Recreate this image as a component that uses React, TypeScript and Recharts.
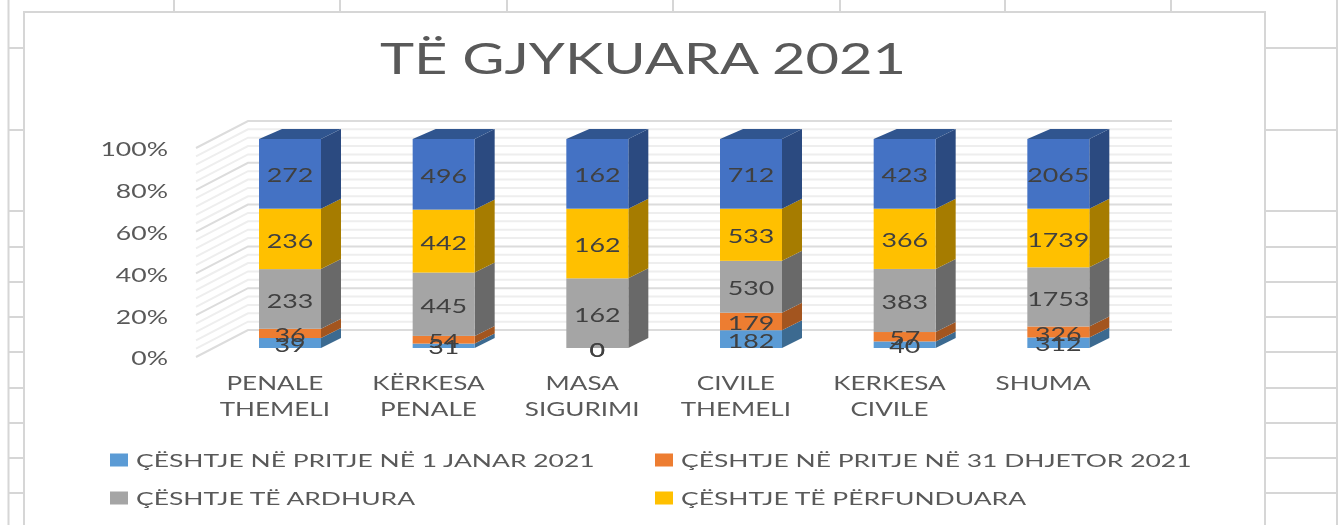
import React from "react";
import { BarChart, Bar, XAxis, YAxis, Legend, LabelList, CartesianGrid } from "recharts";

const categories = ["PENALE THEMELI", "KËRKESA PENALE", "MASA SIGURIMI", "CIVILE THEMELI", "KERKESA CIVILE", "SHUMA"];
const pendingStart = [39, 31, 0, 182, 40, 312];
const pendingEnd = [36, 54, 0, 179, 57, 326];
const incoming = [233, 445, 162, 530, 383, 1753];
const completed = [236, 442, 162, 533, 366, 1739];
const judged = [272, 496, 162, 712, 423, 2065];
const gridTicks = [0, 0.04, 0.08, 0.12, 0.16, 0.2, 0.24, 0.28, 0.32, 0.36, 0.4, 0.44, 0.48, 0.52, 0.56, 0.6, 0.64, 0.68, 0.72, 0.76, 0.8, 0.84, 0.88, 0.92, 0.96, 1];
const seriesNames = ["ÇËSHTJE NË PRITJE NË 1 JANAR 2021", "ÇËSHTJE NË PRITJE NË 31 DHJETOR 2021", "ÇËSHTJE TË ARDHURA", "ÇËSHTJE TË PËRFUNDUARA", "ÇËSHTJE TË GJYKUARA"];
const title = "TË GJYKUARA 2021";

const sheetTopX = [174, 340, 507, 673, 840, 1005, 1171];
const sheetRowsLeft = [48, 130, 211, 247, 282, 317, 352, 388, 423, 458, 493];

const data = categories.map((c, i) => ({
  category: c,
  pendingStart: pendingStart[i],
  pendingEnd: pendingEnd[i],
  incoming: incoming[i],
  completed: completed[i],
  judged: judged[i],
}));

const FONT = "Lato, 'Open Sans', sans-serif";
const GRID_MAJOR = "#dcdcdc";
const GRID_MINOR = "#eeeeee";
const SHEET = "#d6d6d6";

function Stretched({ x, y, sx, size, fill, anchor = "middle", children }: any) {
  return (
    <text
      transform={`translate(${x},${y}) scale(${sx},1)`}
      textAnchor={anchor}
      dominantBaseline="central"
      fontFamily={FONT}
      fontSize={size}
      fill={fill}
    >
      {children}
    </text>
  );
}

const makeShape = (front: string, side: string, top?: string) => (props: any) => {
  const { x, y, width: w, height: h } = props;
  const dx = 20;
  const dy = 10;
  return (
    <g>
      <polygon points={`${x + w},${y} ${x + w + dx},${y - dy} ${x + w + dx},${y + h - dy} ${x + w},${y + h}`} fill={side} />
      {top && <polygon points={`${x},${y} ${x + 23},${y - dy} ${x + w + dx},${y - dy} ${x + w},${y}`} fill={top} />}
      <rect x={x} y={y} width={w} height={h} fill={front} />
    </g>
  );
};

const WallLine = (props: any) => {
  const { x1, x2, y1, index } = props;
  const major = index % 5 === 0;
  const pts = `${x1 - 17},${y1 + 9} ${x1 + 35},${y1 - 18} ${x2 + 37},${y1 - 18}`;
  return <polyline key={index} points={pts} fill="none" stroke={major ? GRID_MAJOR : GRID_MINOR} strokeWidth={2} />;
};

const YTick = (props: any) => {
  const pct = Math.round(props.payload.value * 100);
  if (pct % 20 !== 0) return <g />;
  return (
    <Stretched x={168} y={props.y + 10} sx={1.4} size={19} fill="#595959" anchor="end">
      {`${pct}%`}
    </Stretched>
  );
};

const XTick = (props: any) => {
  const lines = String(props.payload.value).split(" ");
  return (
    <g>
      {lines.map((line: string, i: number) => (
        <Stretched key={i} x={props.x - 15} y={383 + i * 26} sx={1.41} size={18.5} fill="#595959">
          {line}
        </Stretched>
      ))}
    </g>
  );
};

const DataLabel = (props: any) => {
  const { x, y, width, height, value } = props;
  return (
    <Stretched x={x + width / 2} y={y + height / 2 + 1} sx={1.34} size={20} fill="#404040">
      {value}
    </Stretched>
  );
};

const legendX = [110, 655];
const legendY = [12, 50];

const LegendContent = (props: any) => {
  const items = (props.payload || []).filter((it: any) => it.type !== "none");
  return (
    <svg width={1340} height={60} style={{ display: "block" }}>
      {items.map((it: any, i: number) => {
        const cx = legendX[i % 2];
        const cy = legendY[Math.floor(i / 2)];
        return (
          <g key={i}>
            <rect x={cx} y={cy - 6.5} width={18} height={13} fill={it.color} />
            <Stretched x={cx + 26} y={cy} sx={1.47} size={18} fill="#595959" anchor="start">
              {it.value}
            </Stretched>
          </g>
        );
      })}
    </svg>
  );
};

const series = [
  { key: "pendingStart", front: "#5b9bd5", side: "#3c6a90" },
  { key: "pendingEnd", front: "#ed7d31", side: "#a3551f" },
  { key: "incoming", front: "#a5a5a5", side: "#696969" },
  { key: "completed", front: "#ffc000", side: "#a67c00" },
  { key: "judged", front: "#4472c4", side: "#2b4a80", top: "#30558f" },
];

export default function App() {
  return (
    <div style={{ position: "absolute", left: 0, top: 0, width: 1340, height: 525, overflow: "hidden", background: "#fff", filter: "blur(0.35px)" }}>
      <svg width={1340} height={525} style={{ position: "absolute", left: 0, top: 0 }}>
        {sheetTopX.map((x) => (
          <line key={x} x1={x} y1={0} x2={x} y2={12} stroke={SHEET} strokeWidth={2} />
        ))}
        <line x1={8.5} y1={0} x2={8.5} y2={525} stroke={SHEET} strokeWidth={2} />
        <line x1={1337} y1={0} x2={1337} y2={525} stroke={SHEET} strokeWidth={2} />
        {sheetRowsLeft.map((y) => (
          <g key={y}>
            <line x1={8} y1={y} x2={24} y2={y} stroke={SHEET} strokeWidth={2} />
            <line x1={1265} y1={y} x2={1337} y2={y} stroke={SHEET} strokeWidth={2} />
          </g>
        ))}
        <rect x={24} y={12} width={1241} height={540} fill="#fff" stroke={SHEET} strokeWidth={2} />
      </svg>
      <div style={{ position: "absolute", left: 0, top: 0 }}>
        <BarChart
          width={1340}
          height={525}
          data={data}
          stackOffset="expand"
          barSize={62}
          margin={{ top: 139, right: 205, bottom: 57, left: 153 }}
        >
          <CartesianGrid vertical={false} horizontal={WallLine} />
          <XAxis dataKey="category" interval={0} height={60} axisLine={false} tickLine={false} tick={<XTick />} />
          <YAxis width={60} domain={[0, 1]} ticks={gridTicks} interval={0} axisLine={false} tickLine={false} tick={<YTick />} />
          <Legend
            verticalAlign="bottom"
            itemSorter={null}
            wrapperStyle={{ left: 0, bottom: 17, width: 1340, height: 60 }}
            content={<LegendContent />}
          />
          {series.map((s, i) => (
            <Bar
              key={s.key}
              dataKey={s.key}
              name={seriesNames[i]}
              stackId="a"
              fill={s.front}
              legendType={s.top ? "none" : "rect"}
              isAnimationActive={false}
              shape={makeShape(s.front, s.side, s.top)}
            >
              <LabelList dataKey={s.key} content={<DataLabel />} />
            </Bar>
          ))}
          <text
            transform="translate(643,58) scale(1.344,1)"
            textAnchor="middle"
            dominantBaseline="central"
            fontFamily={FONT}
            fontSize={43}
            fill="#595959"
          >
            {title}
          </text>
        </BarChart>
      </div>
    </div>
  );
}
